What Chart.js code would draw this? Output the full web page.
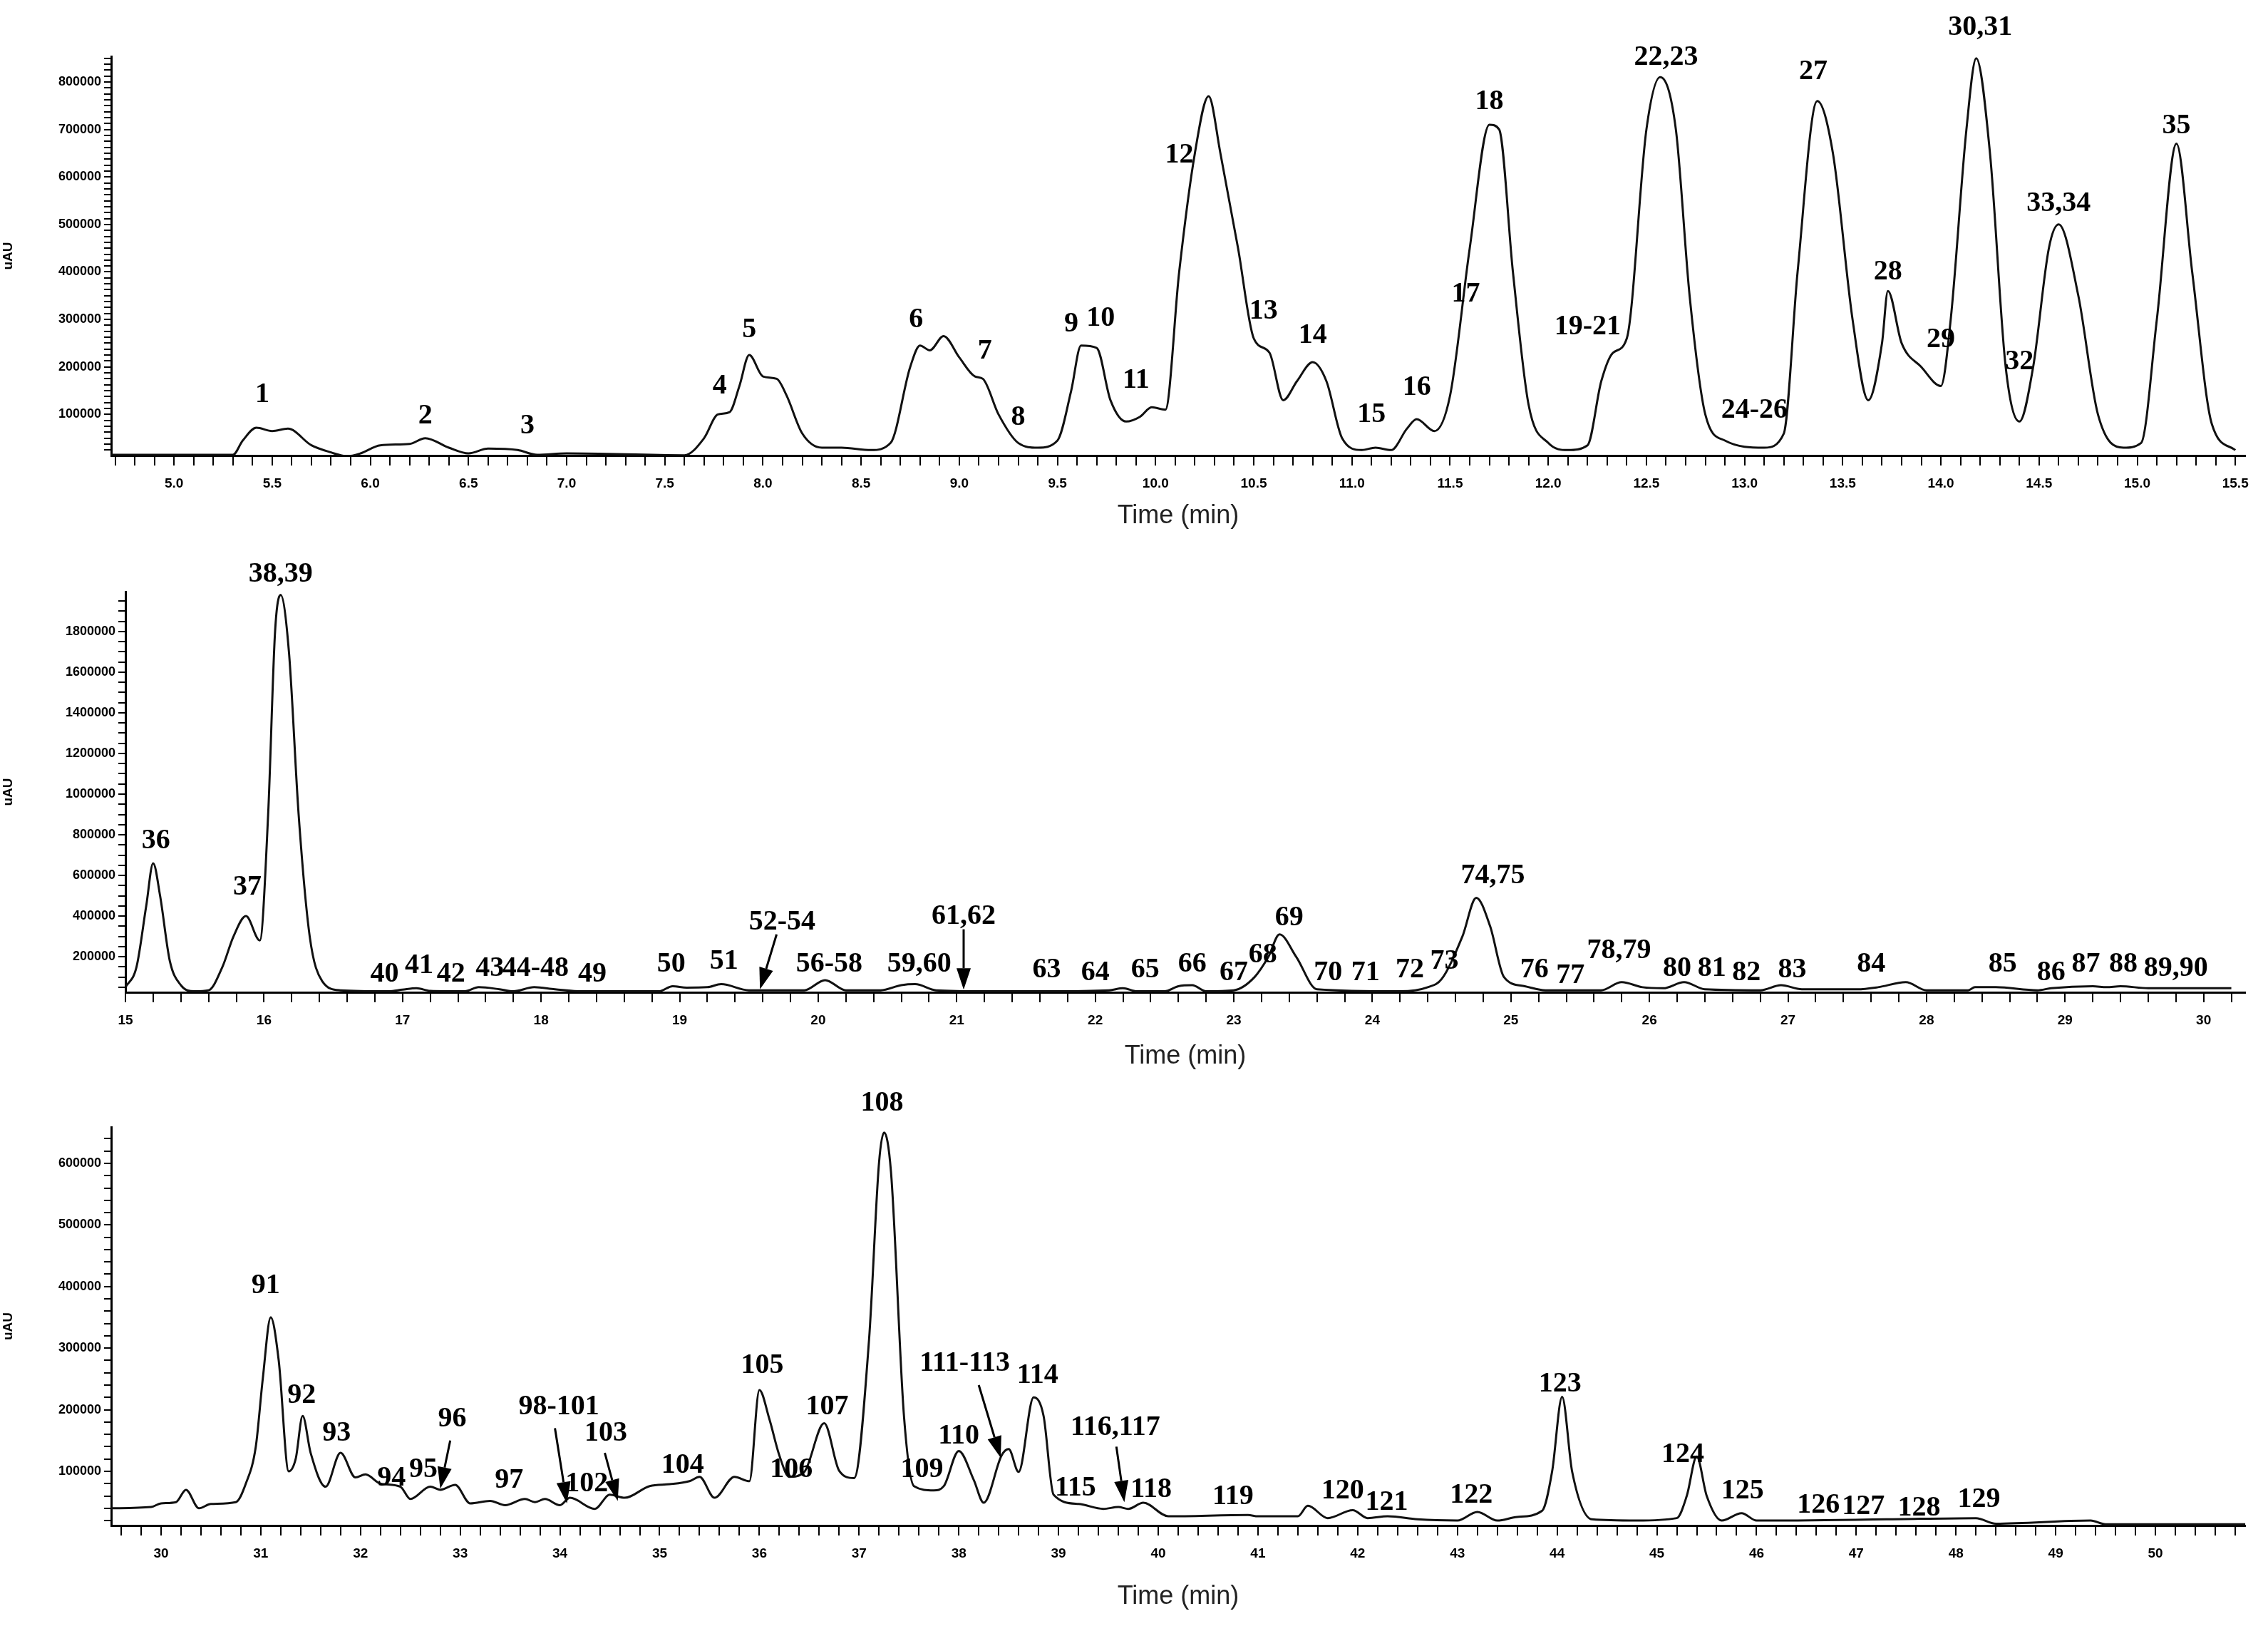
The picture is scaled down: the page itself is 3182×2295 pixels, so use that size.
<!DOCTYPE html>
<html><head><meta charset="utf-8">
<script src="https://cdn.jsdelivr.net/npm/chart.js@4.4.1/dist/chart.umd.min.js"></script>
<style>
html,body{margin:0;padding:0;background:#fff;}
#wrap{position:relative;width:3182px;height:2295px;}
canvas{position:absolute;left:0;}
</style></head>
<body><div id="wrap">
<canvas id="c1" width="3182" height="770" style="top:0px"></canvas>
<canvas id="c2" width="3182" height="760" style="top:770px"></canvas>
<canvas id="c3" width="3182" height="765" style="top:1530px"></canvas>
</div>
<script>
// ---------- Panel 1 (5–15.5 min) ----------
const time1 = [4.65,5.3,5.35,5.42,5.5,5.58,5.7,5.8,5.88,5.95,6.05,6.2,6.28,6.4,6.5,6.6,6.75,6.85,7.0,7.6,7.7,7.77,7.83,7.88,7.93,8.0,8.07,8.12,8.2,8.3,8.4,8.55,8.65,8.75,8.8,8.85,8.92,9.0,9.08,9.12,9.2,9.3,9.4,9.5,9.57,9.62,9.7,9.77,9.85,9.92,9.98,10.05,10.12,10.2,10.27,10.33,10.42,10.5,10.58,10.65,10.72,10.8,10.87,10.95,11.05,11.12,11.2,11.28,11.33,11.42,11.5,11.6,11.7,11.75,11.82,11.9,12.0,12.1,12.2,12.27,12.33,12.4,12.5,12.57,12.65,12.72,12.8,12.9,13.1,13.2,13.27,13.37,13.45,13.55,13.63,13.7,13.73,13.8,13.9,14.0,14.05,14.13,14.18,14.25,14.33,14.4,14.47,14.55,14.6,14.7,14.8,14.93,15.02,15.1,15.2,15.28,15.38,15.5];
const signal1 = [15000,15000,45000,72000,65000,70000,35000,20000,12000,18000,35000,38000,50000,30000,18000,28000,25000,15000,18000,14000,50000,100000,105000,160000,225000,180000,175000,140000,60000,30000,30000,25000,40000,200000,245000,235000,265000,220000,180000,175000,100000,40000,30000,45000,150000,245000,240000,130000,85000,95000,115000,110000,400000,650000,770000,650000,450000,260000,230000,130000,170000,210000,170000,50000,25000,30000,25000,70000,90000,65000,140000,450000,710000,700000,400000,120000,40000,25000,35000,170000,230000,260000,700000,810000,700000,350000,100000,45000,30000,60000,400000,760000,650000,300000,130000,250000,360000,250000,200000,160000,300000,700000,850000,650000,200000,85000,200000,450000,500000,350000,100000,30000,40000,300000,670000,400000,80000,25000];
const labels1 = ["1","2","3","4","5","6","7","8","9","10","11","12","13","14","15","16","17","18","19-21","22,23","24-26","27","28","29","30,31","32","33,34","35"];
const labelX1 = [5.45,6.28,6.8,7.78,7.93,8.78,9.13,9.3,9.57,9.72,9.9,10.12,10.55,10.8,11.1,11.33,11.58,11.7,12.2,12.6,13.05,13.35,13.73,14.0,14.2,14.4,14.6,15.2];
const labelY1 = [142000,97000,76000,160000,278000,299000,233000,94000,290000,302000,172000,646000,317000,266000,100000,157000,353000,758000,284000,852000,109000,822000,399000,257000,915000,211000,544000,707000];
const yTicks1 = [100000,200000,300000,400000,500000,600000,700000,800000];

// ---------- Panel 2 (15–30 min) ----------
const time2 = [15.0,15.08,15.15,15.2,15.25,15.32,15.4,15.5,15.6,15.7,15.78,15.87,15.97,16.03,16.08,16.12,16.18,16.25,16.33,16.42,16.55,16.9,17.0,17.1,17.2,17.45,17.55,17.7,17.8,17.95,18.1,18.3,18.85,18.95,19.05,19.2,19.3,19.5,19.9,20.05,20.2,20.45,20.6,20.7,20.85,21.2,21.65,22.1,22.2,22.3,22.5,22.6,22.7,22.8,23.0,23.15,23.25,23.33,23.45,23.6,24.2,24.4,24.5,24.65,24.75,24.85,24.95,25.1,25.25,25.65,25.8,25.95,26.1,26.25,26.4,26.8,26.95,27.1,27.5,27.65,27.85,28.0,28.3,28.35,28.5,28.8,28.9,29.2,29.3,29.4,29.6,30.2];
const signal2 = [50000,150000,450000,660000,500000,180000,60000,30000,35000,150000,300000,400000,280000,900000,1800000,1980000,1700000,900000,300000,80000,35000,30000,38000,45000,32000,30000,50000,40000,30000,50000,40000,30000,30000,55000,48000,50000,65000,35000,35000,85000,35000,35000,60000,65000,35000,30000,30000,35000,45000,30000,30000,55000,60000,30000,35000,100000,200000,310000,200000,40000,30000,50000,90000,300000,490000,350000,100000,55000,35000,35000,75000,50000,45000,75000,40000,35000,60000,40000,40000,50000,75000,35000,35000,50000,50000,35000,45000,55000,50000,55000,45000,45000];
const labels2 = ["36","37","38,39","40","41","42","43","44-48","49","50","51","52-54","56-58","59,60","61,62","63","64","65","66","67","68","69","70","71","72","73","74,75","76","77","78,79","80","81","82","83","84","85","86","87","88","89,90"];
const labelX2 = [15.22,15.88,16.12,16.87,17.12,17.35,17.63,17.96,18.37,18.94,19.32,19.74,20.08,20.73,21.05,21.65,22.0,22.36,22.7,23.0,23.21,23.4,23.68,23.95,24.27,24.52,24.87,25.17,25.43,25.78,26.2,26.45,26.7,27.03,27.6,28.55,28.9,29.15,29.42,29.8];
const labelY2 = [770000,540000,2080000,114000,157000,114000,142000,142000,114000,164000,178000,370000,164000,164000,399000,135000,121000,135000,164000,121000,207000,392000,121000,121000,135000,178000,598000,135000,107000,228000,142000,142000,121000,135000,164000,164000,121000,164000,164000,142000];
const yTicks2 = [200000,400000,600000,800000,1000000,1200000,1400000,1600000,1800000];

// ---------- Panel 3 (30–51 min) ----------
const time3 = [29.5,29.9,30.0,30.15,30.25,30.38,30.5,30.75,30.85,30.95,31.02,31.1,31.18,31.28,31.35,31.42,31.5,31.65,31.8,31.95,32.05,32.2,32.4,32.5,32.7,32.8,32.95,33.1,33.3,33.45,33.65,33.75,33.85,34.0,34.1,34.35,34.5,34.65,34.9,35.1,35.3,35.4,35.55,35.75,35.9,36.0,36.1,36.2,36.3,36.45,36.65,36.8,36.95,37.1,37.2,37.25,37.32,37.45,37.55,37.75,37.85,38.0,38.15,38.25,38.43,38.5,38.6,38.75,38.85,38.95,39.2,39.45,39.6,39.7,39.85,40.1,40.9,41.0,41.4,41.5,41.7,41.95,42.1,42.3,42.6,43.0,43.2,43.4,43.6,43.85,43.95,44.05,44.15,44.35,44.8,45.2,45.3,45.4,45.5,45.65,45.85,46.0,47.3,48.2,48.4,49.35,49.5,50.9];
const signal3 = [40000,42000,48000,50000,70000,40000,47000,50000,80000,140000,250000,350000,280000,100000,120000,190000,130000,75000,130000,90000,95000,80000,75000,55000,75000,70000,78000,48000,52000,45000,55000,50000,55000,45000,57000,39000,62000,57000,76000,79000,84000,91000,57000,91000,84000,232000,185000,126000,91000,99000,178000,101000,89000,314000,601000,650000,586000,190000,76000,69000,76000,133000,86000,49000,126000,136000,99000,220000,190000,62000,47000,39000,42000,39000,49000,27000,29000,27000,27000,44000,24000,37000,24000,27000,22000,20000,34000,20000,26000,36000,100000,221000,100000,22000,20000,24000,60000,124000,60000,20000,32000,20000,22000,24000,15000,20000,14000,14000];
const labels3 = ["91","92","93","94","95","96","97","98-101","102","103","104","105","106","107","108","109","110","111-113","114","115","116,117","118","119","120","121","122","123","124","125","126","127","128","129"];
const labelX3 = [31.05,31.41,31.76,32.31,32.63,32.92,33.49,33.99,34.27,34.46,35.23,36.03,36.32,36.68,37.23,37.63,38.0,38.06,38.79,39.17,39.57,39.93,40.75,41.85,42.29,43.14,44.03,45.26,45.86,46.62,47.07,47.63,48.23];
const labelY3 = [401000,223000,162000,89000,103000,185000,85000,204000,80000,162000,110000,272000,103000,204000,697000,103000,157000,275000,256000,73000,171000,70000,59000,68000,49000,61000,242000,127000,68000,45000,42000,40000,54000];
const yTicks3 = [100000,200000,300000,400000,500000,600000];
const xTickStep = [0.1, 0.2, 0.2];
const xLabelEvery = [0.5, 1, 1];

// arrows: [fromX, fromY, toX, toY]
const arrows2 = [[19.7,310000,19.58,40000],[21.05,335000,21.05,38000]];
const arrows3 = [[32.9,150000,32.8,72000],[33.95,170000,34.07,48000],[34.45,130000,34.58,52000],[38.2,240000,38.42,122000],[39.58,140000,39.66,50000]];

const serif = '"Liberation Serif", "DejaVu Serif", serif';
const sans = '"Liberation Sans", Arial, sans-serif';

function makeChart(id, t, s, o){
  const pts = t.map((x,i)=>({x:x,y:s[i]}));
  const xMinor=[]; for(let v=Math.ceil(o.xmin/o.xstep-1e-9); v*o.xstep<=o.xmax+1e-9; v++){ xMinor.push(+(v*o.xstep).toFixed(4)); }
  const yMinor=[]; for(let v=Math.ceil(o.ymin/o.ystep); v*o.ystep<=o.ymax; v++){ yMinor.push(v*o.ystep); }
  const labelPlugin = {
    id:'peaks'+id,
    afterDatasetsDraw(chart){
      const ctx=chart.ctx, xs=chart.scales.x, ys=chart.scales.y;
      ctx.save();
      ctx.fillStyle='#000'; ctx.strokeStyle='#000';
      ctx.font='bold 40px '+serif; ctx.textAlign='center'; ctx.textBaseline='middle';
      o.labels.forEach((txt,i)=>{ ctx.fillText(txt, xs.getPixelForValue(o.lx[i]), ys.getPixelForValue(o.ly[i])); });
      (o.arrows||[]).forEach(a=>{
        const x1=xs.getPixelForValue(a[0]), y1=ys.getPixelForValue(a[1]);
        const x2=xs.getPixelForValue(a[2]), y2=ys.getPixelForValue(a[3]);
        const ang=Math.atan2(y2-y1,x2-x1), L=30, W=10;
        ctx.lineWidth=3; ctx.beginPath(); ctx.moveTo(x1,y1);
        ctx.lineTo(x2-L*Math.cos(ang),y2-L*Math.sin(ang)); ctx.stroke();
        ctx.beginPath(); ctx.moveTo(x2,y2);
        ctx.lineTo(x2-L*Math.cos(ang)+W*Math.sin(ang), y2-L*Math.sin(ang)-W*Math.cos(ang));
        ctx.lineTo(x2-L*Math.cos(ang)-W*Math.sin(ang), y2-L*Math.sin(ang)+W*Math.cos(ang));
        ctx.closePath(); ctx.fill();
      });
      ctx.restore();
    }
  };
  return new Chart(document.getElementById(id),{
    type:'line',
    data:{datasets:[{data:pts,borderColor:'#111',borderWidth:3,pointRadius:0,cubicInterpolationMode:'monotone',fill:false}]},
    options:{
      responsive:false, animation:false, devicePixelRatio:1,
      layout:{padding:{top:o.padTop,right:32,bottom:o.padBottom,left:0}},
      plugins:{legend:{display:false},tooltip:{enabled:false}},
      scales:{
        x:{type:'linear',min:o.xmin,max:o.xmax,
          afterFit(sc){sc.height=o.xHeight;},
          afterBuildTicks(sc){sc.ticks=xMinor.map(v=>({value:v}));},
          border:{color:'#000',width:3},
          grid:{drawOnChartArea:false,color:'#000',lineWidth:2,tickLength:14},
          ticks:{autoSkip:false,maxRotation:0,padding:14,color:'#000',font:{family:sans,size:19,weight:'bold'},
            callback(v){const r=v/o.xlab; return Math.abs(r-Math.round(r))<1e-6 ? (o.xdec? v.toFixed(1): String(Math.round(v))) : '';}},
          title:{display:true,text:'Time (min)',color:'#222',font:{family:sans,size:36},padding:{top:0,bottom:0}}
        },
        y:{type:'linear',min:o.ymin,max:o.ymax,
          afterFit(sc){sc.width=o.left;},
          afterBuildTicks(sc){sc.ticks=yMinor.map(v=>({value:v}));},
          border:{color:'#000',width:3},
          grid:{drawOnChartArea:false,color:'#000',lineWidth:2,tickLength:10},
          ticks:{autoSkip:false,padding:4,color:'#000',font:{family:sans,size:18,weight:'bold'},
            callback(v){return o.yt.includes(v)? String(v):'';}},
          title:{display:true,text:'uAU',color:'#000',font:{family:sans,size:19,weight:'bold'},padding:{top:0,bottom:4}}
        }
      }
    },
    plugins:[labelPlugin]
  });
}

makeChart('c1',time1,signal1,{xmin:4.68,xmax:15.55,xstep:xTickStep[0],xlab:xLabelEvery[0],xdec:true,ymin:13500,ymax:854000,ystep:12500,yt:yTicks1,
  labels:labels1,lx:labelX1,ly:labelY1,arrows:[],padTop:79,padBottom:24,xHeight:107,left:156});
makeChart('c2',time2,signal2,{xmin:15,xmax:30.3,xstep:xTickStep[1],xlab:xLabelEvery[1],xdec:false,ymin:25000,ymax:1996000,ystep:50000,yt:yTicks2,
  labels:labels2,lx:labelX2,ly:labelY2,arrows:arrows2,padTop:60,padBottom:26,xHeight:112,left:176});
makeChart('c3',time3,signal3,{xmin:29.5,xmax:50.9,xstep:xTickStep[2],xlab:xLabelEvery[2],xdec:false,ymin:12000,ymax:659000,ystep:20000,yt:yTicks3,
  labels:labels3,lx:labelX3,ly:labelY3,arrows:arrows3,padTop:51,padBottom:33,xHeight:122,left:156});
</script>
</body></html>
